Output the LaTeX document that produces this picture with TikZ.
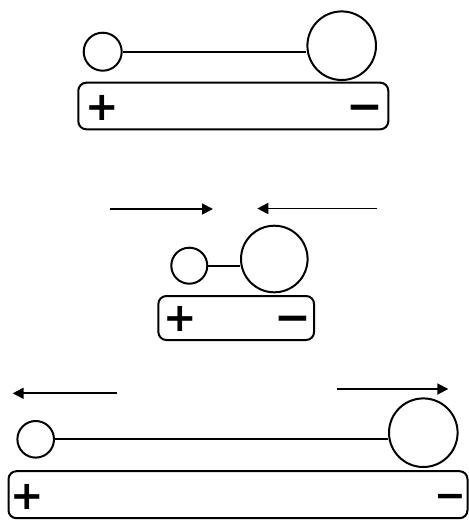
\documentclass[tikz,border=0pt]{standalone}
\usepackage{fontspec}
\newfontfamily\symfont{DejaVu Sans}
\usetikzlibrary{arrows.meta}
\begin{document}
\begin{tikzpicture}[x=1pt,y=-1pt,
  ball/.style={circle,draw,line width=2pt,inner sep=0pt,fill=white},
  rod/.style={line width=1.8pt},
  bar/.style={draw,line width=2pt,rounded corners=8pt,inner sep=0pt},
  arr/.style={line width=1.8pt,-{Triangle[length=11pt,width=11pt]}},
  plussign/.style={inner sep=0pt,anchor=base,yshift=-14pt,font=\symfont\bfseries\fontsize{40}{40}\selectfont},
  minussign/.style={inner sep=0pt,anchor=base,yshift=-15.4pt,font=\symfont\bfseries\fontsize{44}{44}\selectfont},
  minussmall/.style={inner sep=0pt,anchor=base,yshift=-13.3pt,font=\symfont\bfseries\fontsize{38}{38}\selectfont}]
\useasboundingbox (0,0) rectangle (469,520);
% top panel
\node[bar,minimum width=310pt,minimum height=46.6pt] (bar1) at (233.3,106) {};
\node[ball,minimum size=38pt] (s1) at (102.7,51.7) {};
\node[ball,minimum size=68.6pt] (b1) at (341.7,45.7) {};
\draw[rod] (s1.east) -- (s1.east -| b1.west);
\node[plussign] (p1) at (102,106) {+};
\node[minussign] (m1) at (365,106) {−};
% middle panel
\coordinate (a1s) at (110,209);
\coordinate (a1e) at (213,209);
\coordinate (a2s) at (376.7,208.5);
\coordinate (a2e) at (257.3,208.5);
\draw[arr] (a1s) -- (a1e);
\draw[arr] (a2s) -- (a2e);
\node[bar,minimum width=155.7pt,minimum height=44pt] (bar2) at (236.2,318) {};
\node[ball,minimum size=36pt] (s2) at (189.3,265.7) {};
\node[ball,minimum size=66.6pt] (b2) at (274.3,259) {};
\draw[rod] (s2.east) -- (s2.east -| b2.west);
\node[plussign] (p2) at (180,317.7) {+};
\node[minussign] (m2) at (292.7,316.7) {−};
% bottom panel
\coordinate (a3s) at (116.7,393.3);
\coordinate (a3e) at (12.7,393.3);
\coordinate (a4s) at (336.7,389);
\coordinate (a4e) at (448.3,389);
\draw[arr] (a3s) -- (a3e);
\draw[arr] (a4s) -- (a4e);
\node[bar,minimum width=459pt,minimum height=47pt] (bar3) at (238,494.7) {};
\node[ball,minimum size=36.6pt] (s3) at (35.7,439.3) {};
\node[ball,minimum size=68.6pt] (b3) at (423.3,432.7) {};
\draw[rod] (s3.east) -- (s3.east -| b3.west);
\node[plussign] (p3) at (27.7,495) {+};
\node[minussmall] (m3) at (450.5,495.5) {−};
\end{tikzpicture}
\end{document}
